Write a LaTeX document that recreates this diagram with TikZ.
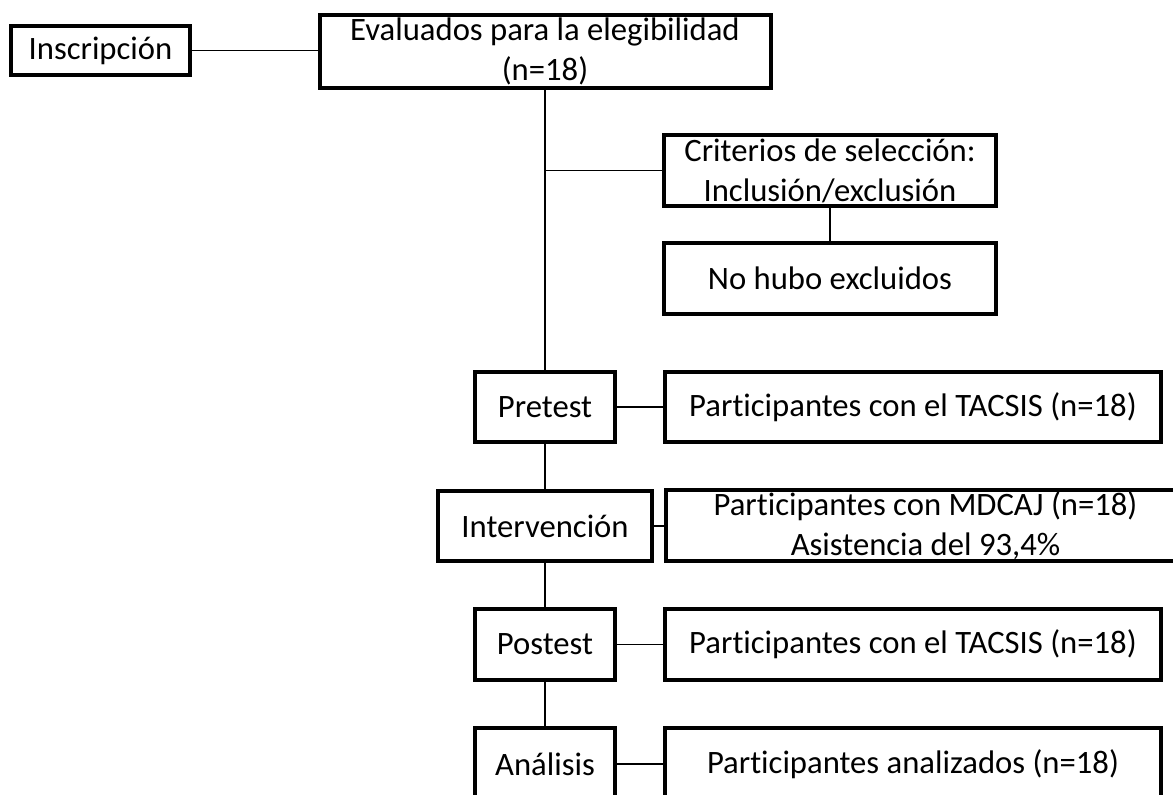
\documentclass[tikz,border=0pt]{standalone}
\usepackage{fontspec}
\setmainfont{Carlito}[Ligatures=NoCommon]
\begin{document}
\begin{tikzpicture}[x=0.75pt,y=-0.75pt,
  box/.style={draw=black, line width=3pt, fill=white, inner sep=0pt, align=center,
    font=\fontsize{24.5}{30}\selectfont},
  conn/.style={draw=black, line width=1.1pt}]
\clip (0,0) rectangle (1173,794);
\fill[white] (0,0) rectangle (1173,794);
% nodes
\node[box, minimum width=134.25pt, minimum height=36.75pt] (ins) at (100.5,50.5) {Inscripción};
\node[box, minimum width=338.25pt, minimum height=54.75pt] (eval) at (545,51.5) {Evaluados para la elegibilidad\\(n=18)};
\node[box, minimum width=249pt, minimum height=53.25pt] (crit) at (830,170.5) {Criterios de selección:\\Inclusión/exclusión};
\node[box, minimum width=249pt, minimum height=53.25pt] (nohubo) at (830,278.5) {No hubo excluidos};
\node[box, minimum width=105pt, minimum height=52.5pt] (pre) at (545,407) {Pretest};
\node[box, minimum width=372pt, minimum height=52.5pt] (preP) at (913,407) {Participantes con el TACSIS (n=18)};
\node[box, minimum width=160.5pt, minimum height=52.5pt] (int) at (545,526) {Intervención};
\node[box, minimum width=389.25pt, minimum height=53.25pt] (intP) at (925.5,525.5) {Participantes con MDCAJ (n=18)\\Asistencia del 93,4\%};
\node[box, minimum width=105pt, minimum height=53.25pt] (post) at (545,644.5) {Postest};
\node[box, minimum width=372pt, minimum height=53.25pt] (postP) at (913,644.5) {Participantes con el TACSIS (n=18)};
\node[box, minimum width=105pt, minimum height=54pt] (ana) at (545,764) {Análisis};
\node[box, minimum width=372pt, minimum height=54pt] (anaP) at (913,764) {Participantes analizados (n=18)};
% connectors
\coordinate (j1) at (eval.south |- crit.west);
\draw[conn] (ins.east) -- (ins.east -| eval.west);
\draw[conn] (eval.south) -- (pre.north);
\draw[conn] (j1) -- (crit.west);
\draw[conn] (crit.south) -- (nohubo.north);
\draw[conn] (pre.east) -- (pre.east -| preP.west);
\draw[conn] (int.east) -- (int.east -| intP.west);
\draw[conn] (post.east) -- (post.east -| postP.west);
\draw[conn] (ana.east) -- (ana.east -| anaP.west);
\draw[conn] (pre.south) -- (int.north);
\draw[conn] (int.south) -- (post.north);
\draw[conn] (post.south) -- (ana.north);
\end{tikzpicture}
\end{document}
